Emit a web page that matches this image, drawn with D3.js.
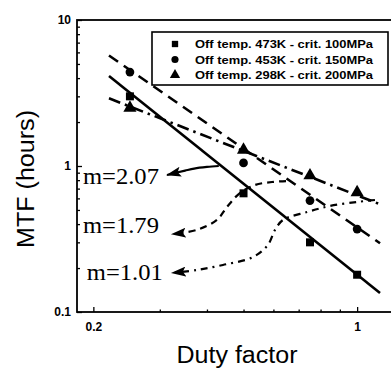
<!DOCTYPE html>
<html><head><meta charset="utf-8">
<script src="https://cdn.jsdelivr.net/npm/d3@7"></script>
<style>body{margin:0;background:#fff}svg{display:block}</style>
</head><body>
<svg id="c" width="391" height="369"></svg>
<script>
// ---- data ----
const duty = [0.25, 0.5, 0.75, 1.0];
const mtf473 = [3.0, 0.65, 0.30, 0.18];
const mtf453 = [4.4, 1.05, 0.58, 0.37];
const mtf298 = [2.5, 1.29, 0.86, 0.66];
const seriesNames = ["Off temp. 473K - crit. 100MPa", "Off temp. 453K - crit. 150MPa", "Off temp. 298K - crit. 200MPa"];
const fitSlope = [2.07, 1.79, 1.01];
const fitAt1 = [0.18, 0.38, 0.63];
const fitRange = [0.22, 1.15];
const xTicks = [0.2, 1];
const yTicks = [0.1, 1, 10];
const slopeLabels = ["m=2.07", "m=1.79", "m=1.01"];
// annotation anchors (data units): label position and arrow path (start -> tip)
const labelPos = [[0.1877, 0.753], [0.1877, 0.348], [0.1922, 0.166]];
const arrow207 = [[0.43, 1.0], [0.40, 0.985], [0.37, 0.96], [0.35, 0.93], [0.3135, 0.868]];
const arrow179 = [[0.648, 0.789], [0.595, 0.777], [0.536, 0.741], [0.489, 0.653], [0.452, 0.524], [0.425, 0.427], [0.376, 0.365], [0.323, 0.342]];
const arrow101 = [[1.115, 0.585], [0.999, 0.567], [0.847, 0.532], [0.737, 0.484], [0.636, 0.427], [0.606, 0.365], [0.580, 0.288], [0.530, 0.238], [0.441, 0.210], [0.376, 0.194], [0.323, 0.185]];

const svg = d3.select("#c");
const L = 77, R = 395, T = 20, B = 312;
const x = d3.scaleLog().domain([0.181, 1.26]).range([L, R]);
const y = d3.scaleLog().domain([0.1, 10]).range([B, T]);

// defs: arrowhead
const defs = svg.append("defs");
defs.append("marker").attr("id", "ah").attr("viewBox", "0 0 15 10").attr("refX", 14).attr("refY", 5)
  .attr("markerWidth", 15).attr("markerHeight", 10).attr("markerUnits", "userSpaceOnUse").attr("orient", "auto")
  .append("path").attr("d", "M0,0 L15,5 L0,10 L3,5 Z").attr("fill", "#000");

// axes (ticks inside)
const minorX = [0.3,0.4,0.5,0.6,0.7,0.8,0.9];
const minorY = [];
[0.1, 1].forEach(d => { for (let k = 2; k <= 9; k++) minorY.push(d * k); });

const gx = svg.append("g").attr("transform", `translate(0,${B})`);
gx.call(d3.axisBottom(x).tickValues(xTicks).tickSize(-5).tickPadding(10).tickFormat(d3.format("")));
gx.append("g").call(d3.axisBottom(x).tickValues(minorX).tickSize(-2.5).tickFormat(""));
const gy = svg.append("g").attr("transform", `translate(${L},0)`);
gy.call(d3.axisLeft(y).tickValues(yTicks).tickSize(-5).tickPadding(6).tickFormat(d3.format("")));
gy.append("g").call(d3.axisLeft(y).tickValues(minorY).tickSize(-3).tickFormat(""));
svg.selectAll(".domain").remove();
svg.selectAll(".tick line").attr("stroke", "#000").attr("stroke-width", 1.3);
svg.selectAll(".tick text").attr("font-family", "Liberation Sans, Arial, sans-serif")
  .attr("font-weight", "bold").attr("font-size", 12).attr("fill", "#000");
gx.selectAll(".tick text").attr("dy", "0.71em");

// frame
svg.append("rect").attr("x", L).attr("y", T).attr("width", R - L).attr("height", B - T)
  .attr("fill", "none").attr("stroke", "#000").attr("stroke-width", 1.8);

// fit lines
const styles = ["none", "11,7", "12,5,2.5,5"];
const fitG = svg.append("g");
fitSlope.forEach((m, i) => {
  const pts = fitRange.map(d => [d, fitAt1[i] * Math.pow(d, -m)]);
  fitG.append("line").attr("x1", x(pts[0][0])).attr("y1", y(pts[0][1]))
    .attr("x2", x(pts[1][0])).attr("y2", y(pts[1][1]))
    .attr("stroke", "#000").attr("stroke-width", 2.6)
    .attr("stroke-dasharray", styles[i]);
});

// markers
const sets = [mtf473, mtf453, mtf298];
const syms = [d3.symbolSquare, d3.symbolCircle, d3.symbolTriangle];
const symSize = [64, 60, 75];
sets.forEach((vals, i) => {
  svg.append("g").selectAll("path").data(vals).join("path")
    .attr("transform", (d, j) => `translate(${x(duty[j])},${y(d)})`)
    .attr("d", d3.symbol().type(syms[i]).size(symSize[i]))
    .attr("fill", "#000");
});

// arrows
const ln = d3.line().x(d => x(d[0])).y(d => y(d[1])).curve(d3.curveCatmullRom.alpha(0.5));
const arrows = [arrow207, arrow179, arrow101];
const arrowDash = ["none", "7,5", "7,5,2,5"];
arrows.forEach((a, i) => {
  svg.append("path").attr("d", ln(a)).attr("fill", "none").attr("stroke", "#000")
    .attr("stroke-width", 2.2).attr("stroke-dasharray", arrowDash[i]).attr("marker-end", "url(#ah)");
});

// slope labels
slopeLabels.forEach((t, i) => {
  svg.append("text").attr("x", x(labelPos[i][0])).attr("y", y(labelPos[i][1]))
    .attr("font-family", "Liberation Serif, Times New Roman, serif").attr("font-size", 23)
    .attr("textLength", 76).attr("lengthAdjust", "spacingAndGlyphs").text(t);
});

// legend
const lg = svg.append("g");
lg.append("rect").attr("x", 152).attr("y", 32).attr("width", 236).attr("height", 53)
  .attr("fill", "#fff").attr("stroke", "#000").attr("stroke-width", 1.6);
seriesNames.forEach((n, i) => {
  const cy = 44 + i * 15.5;
  lg.append("path").attr("transform", `translate(175,${cy})`)
    .attr("d", d3.symbol().type(syms[i]).size([40, 40, 46][i])).attr("fill", "#000");
  lg.append("text").attr("x", 195).attr("y", cy + 4).attr("font-family", "Liberation Sans, Arial, sans-serif")
    .attr("font-weight", "bold").attr("font-size", 11).attr("textLength", 178)
    .attr("lengthAdjust", "spacingAndGlyphs").text(n);
});

// axis titles
svg.append("text").attr("x", 237).attr("y", 363).attr("text-anchor", "middle")
  .attr("font-family", "Liberation Sans, Arial, sans-serif").attr("font-size", 23)
  .attr("textLength", 121).attr("lengthAdjust", "spacingAndGlyphs").text("Duty factor");
svg.append("text").attr("transform", "translate(34,179) rotate(-90)").attr("text-anchor", "middle")
  .attr("font-family", "Liberation Sans, Arial, sans-serif").attr("font-size", 23)
  .attr("textLength", 138).attr("lengthAdjust", "spacingAndGlyphs").text("MTF (hours)");
</script>
</body></html>
